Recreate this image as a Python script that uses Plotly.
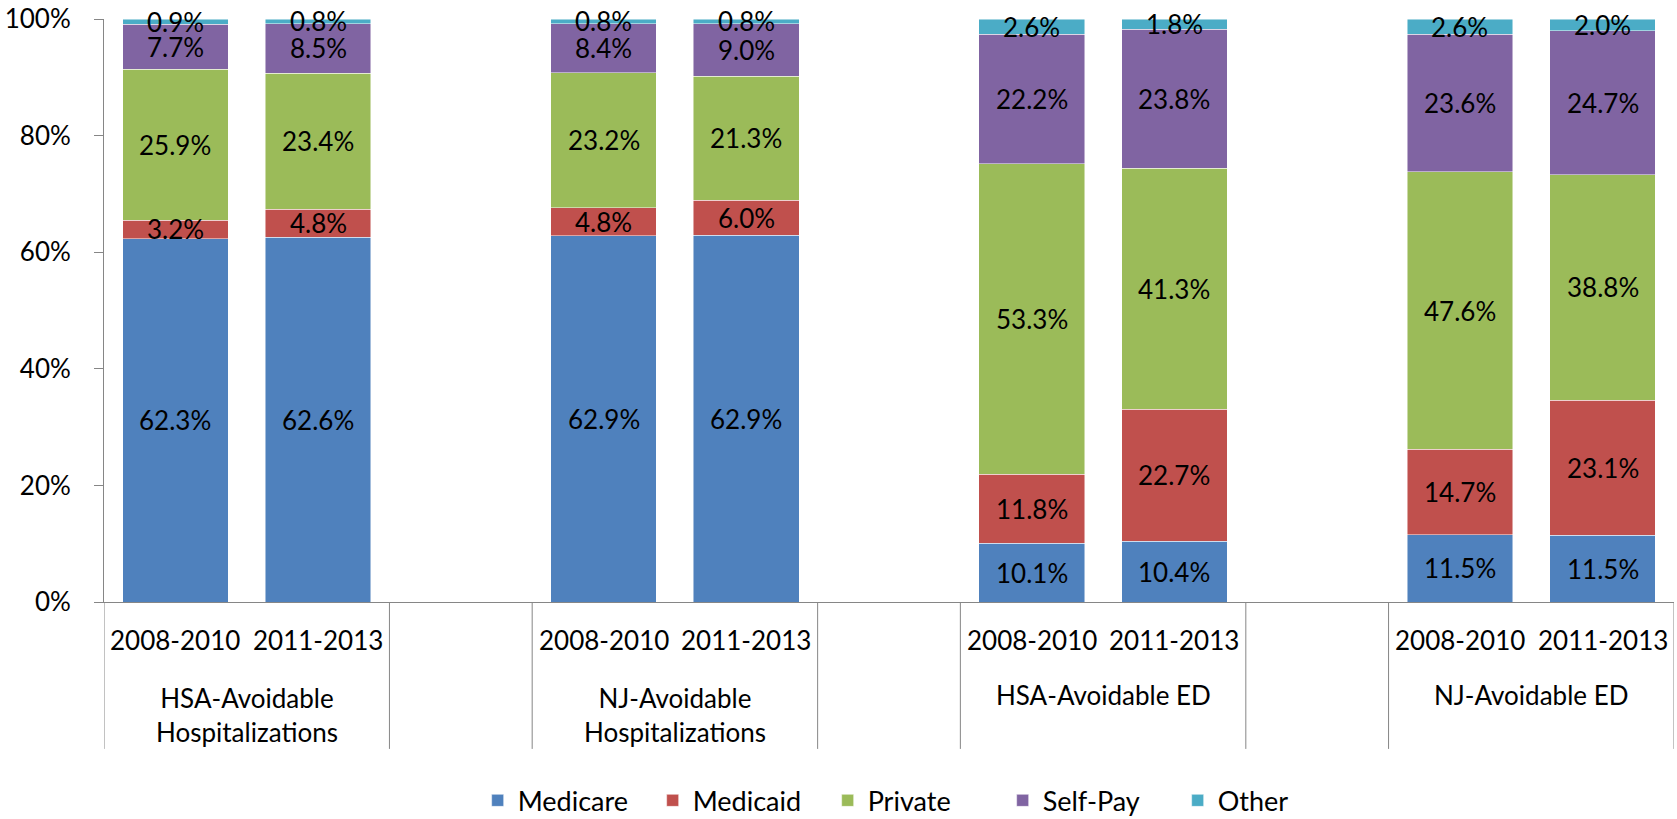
import plotly.graph_objects as go

# ---- data ----
groups = ["HSA-Avoidable<br>Hospitalizations", "NJ-Avoidable<br>Hospitalizations",
          "HSA-Avoidable ED", "NJ-Avoidable ED"]
periods = ["2008-2010", "2011-2013"]
series_names = ["Medicare", "Medicaid", "Private", "Self-Pay", "Other"]
medicare = [62.3, 62.6, 62.9, 62.9, 10.1, 10.4, 11.5, 11.5]
medicaid = [3.2, 4.8, 4.8, 6.0, 11.8, 22.7, 14.7, 23.1]
private = [25.9, 23.4, 23.2, 21.3, 53.3, 41.3, 47.6, 38.8]
selfpay = [7.7, 8.5, 8.4, 9.0, 22.2, 23.8, 23.6, 24.7]
other = [0.9, 0.8, 0.8, 0.8, 2.6, 1.8, 2.6, 2.0]
y_ticks = [0, 20, 40, 60, 80, 100]
y_ticktext = ["0%", "20%", "40%", "60%", "80%", "100%"]

# ---- style ----
colors = ["#4F81BD", "#C0504D", "#9BBB59", "#8064A2", "#4BACC6"]
FONT = "Lato"
FS = 26
AXIS_COLOR = "#868686"
slot = len(periods) + 1  # each group followed by an empty slot

positions = [g * slot + p for g in range(len(groups)) for p in range(len(periods))]
period_labels = [periods[p] for g in range(len(groups)) for p in range(len(periods))]
all_series = [medicare, medicaid, private, selfpay, other]

fig = go.Figure()
for name, vals, col in zip(series_names, all_series, colors):
    fig.add_trace(go.Bar(
        x=positions, y=vals, name=name,
        marker=dict(color=col, line=dict(color="rgba(255,255,255,0.6)", width=0.8)),
        width=0.74,
        hoverinfo="name+y",
    ))

annotations = []
# data labels centred in each (normalised) segment
for i, xpos in enumerate(positions):
    total = sum(s[i] for s in all_series)
    cum = 0.0
    for s in all_series:
        v = s[i]
        mid = (cum + v / 2) / total * 100
        cum += v
        annotations.append(dict(x=xpos, y=mid, xref="x", yref="y", text=f"{v:.1f}%",
                                showarrow=False, yanchor="middle",
                                font=dict(family=FONT, size=FS, color="black")))

n_slots = len(groups) * slot - 1
shapes = []
bounds = []
for g in range(len(groups)):
    bounds.append(g * slot - 0.5)
    bounds.append(g * slot + len(periods) - 0.5)
for b in bounds:
    shapes.append(dict(type="line", xref="x", yref="paper", x0=b, x1=b, y0=0, y1=-0.252,
                       line=dict(color=AXIS_COLOR, width=1)))

for xpos, lab in zip(positions, period_labels):
    annotations.append(dict(x=xpos, y=-0.0652, xref="x", yref="paper", text=lab,
                            showarrow=False, yanchor="middle",
                            font=dict(family=FONT, size=FS, color="black")))
for g, lab in enumerate(groups):
    center = g * slot + (len(periods) - 1) / 2
    two = "<br>" in lab
    annotations.append(dict(x=center, y=-0.194 if two else -0.159, xref="x", yref="paper",
                            text=lab, showarrow=False, yanchor="middle",
                            font=dict(family=FONT, size=FS, color="black")))

fig.update_layout(
    barmode="stack", barnorm="percent",
    width=1677, height=819,
    margin=dict(l=104, r=3, t=19, b=217, autoexpand=False),
    paper_bgcolor="white", plot_bgcolor="white",
    font=dict(family=FONT, size=FS, color="black"),
    xaxis=dict(range=[-0.5, n_slots - 0.5], showticklabels=False, ticks="",
               showgrid=False, zeroline=False, showline=True, linecolor=AXIS_COLOR,
               linewidth=1, fixedrange=True, automargin=False),
    yaxis=dict(range=[0, 100], tickvals=y_ticks, ticktext=y_ticktext, showgrid=False,
               zeroline=False, showline=True, linecolor=AXIS_COLOR, linewidth=1,
               ticks="outside", ticklen=9, tickcolor=AXIS_COLOR, ticklabelstandoff=18,
               automargin=False,
               tickfont=dict(family=FONT, size=FS, color="black")),
    legend=dict(orientation="h", x=0.238, xanchor="left", y=-0.341, yanchor="middle",
                entrywidth=130, entrywidthmode="pixels",
                traceorder="normal", font=dict(family=FONT, size=27, color="black")),
    shapes=shapes, annotations=annotations,
    showlegend=True,
)

# remove the default 8px page margin so the figure fills the window exactly
fig.write_html("out.html", config={"displayModeBar": False},
               post_script="document.body.style.margin='0';")
